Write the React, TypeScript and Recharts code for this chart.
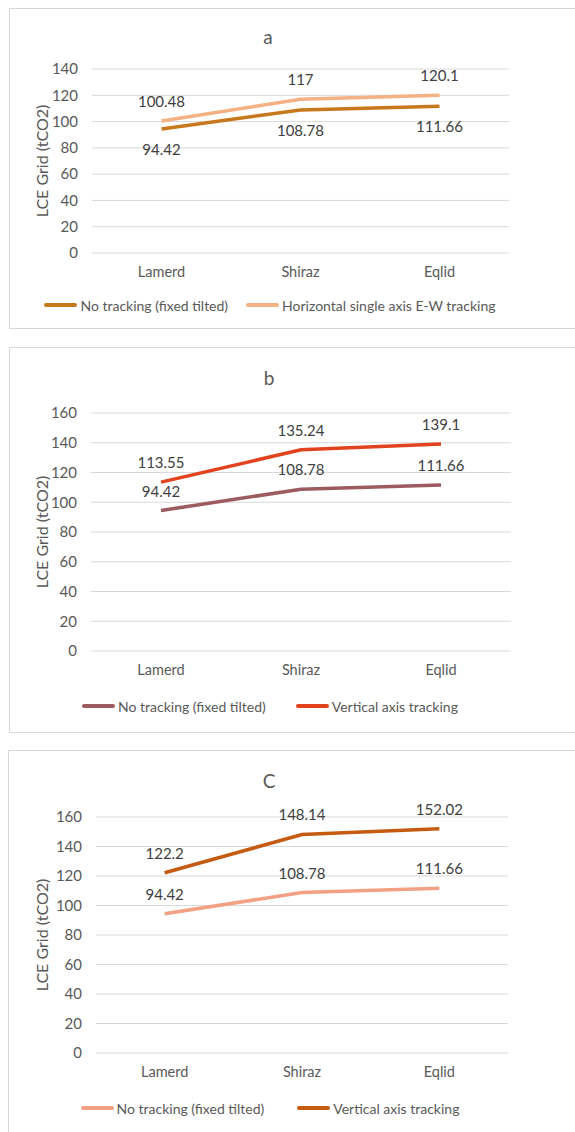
import React from 'react';
import { CartesianGrid, LabelList, Legend, Line, LineChart, XAxis, YAxis } from 'recharts';

const categories = ['Lamerd', 'Shiraz', 'Eqlid'];
const fixedTilted = [94.42, 108.78, 111.66];
const horizontalEW = [100.48, 117, 120.1];
const verticalAxisB = [113.55, 135.24, 139.1];
const verticalAxisC = [122.2, 148.14, 152.02];
const ticksA = [0, 20, 40, 60, 80, 100, 120, 140];
const ticksBC = [0, 20, 40, 60, 80, 100, 120, 140, 160];

const FONT = 'Lato, "Open Sans", sans-serif';
const TEXT = '#595959';
const LABEL = '#404040';
const GRID = '#d9d9d9';
const PAGE_W = 575;
const AXIS_H = 30;
const LEGEND_H = 40;

type SeriesDef = {
  key: string;
  name: string;
  values: number[];
  color: string;
  labelPos: 'top' | 'bottom';
};

type PanelProps = {
  title: string;
  titleX: number;
  titleY: number;
  top: number;
  height: number;
  frameLeft: number;
  plotLeft: number;
  plotRight: number;
  plotTop: number;
  plotBottom: number;
  ticks: number[];
  series: SeriesDef[];
  legendY: number;
  legendGap: number;
};

function LegendRow({ series, gap, padTop }: { series: SeriesDef[]; gap: number; padTop: number }) {
  return (
    <div style={{ position: 'relative', height: LEGEND_H, width: 540 }}>
      <div
        style={{
          position: 'absolute',
          top: padTop,
          left: 0,
          width: 540,
          height: 18,
          display: 'flex',
          justifyContent: 'center',
          alignItems: 'center',
          gap,
        }}
      >
        {series.map((s) => (
          <div key={s.key} style={{ display: 'flex', alignItems: 'center' }}>
            <div style={{ width: 33, height: 4, background: s.color, borderRadius: 2, marginRight: 3 }} />
            <span style={{ fontSize: 14, color: TEXT, fontFamily: FONT, whiteSpace: 'nowrap' }}>{s.name}</span>
          </div>
        ))}
      </div>
    </div>
  );
}

function Panel(p: PanelProps) {
  const rows = categories.map((c, i) => {
    const row: Record<string, string | number> = { name: c };
    p.series.forEach((s) => {
      row[s.key] = s.values[i];
    });
    return row;
  });

  const marginTop = p.plotTop - p.top;
  const marginRight = PAGE_W - p.plotRight;
  const marginBottom = p.height - (p.plotBottom - p.top) - AXIS_H - LEGEND_H;
  const legendTop = p.top + p.height - marginBottom - LEGEND_H;
  const pad = (p.plotRight - p.plotLeft) / 6;

  return (
    <>
      <div
        style={{
          position: 'absolute',
          left: p.frameLeft,
          top: p.top,
          width: PAGE_W,
          height: p.height,
          border: `1px solid ${GRID}`,
          boxSizing: 'border-box',
        }}
      />
      <div
        style={{
          position: 'absolute',
          left: p.titleX - 50,
          top: p.titleY - 12,
          width: 100,
          lineHeight: '24px',
          textAlign: 'center',
          fontSize: 19,
          color: TEXT,
          fontFamily: FONT,
        }}
      >
        {p.title}
      </div>
      <div style={{ position: 'absolute', left: 0, top: p.top }}>
        <LineChart
          width={PAGE_W}
          height={p.height}
          data={rows}
          margin={{ top: marginTop, right: marginRight, bottom: marginBottom, left: 0 }}
        >
          <CartesianGrid vertical={false} stroke={GRID} strokeWidth={1} />
          <XAxis
            dataKey="name"
            axisLine={false}
            tickLine={false}
            tickSize={0}
            tickMargin={14}
            height={AXIS_H}
            padding={{ left: pad, right: pad }}
            tick={{ fill: TEXT, fontSize: 14.5, fontFamily: FONT }}
          />
          <YAxis
            width={p.plotLeft}
            domain={[0, p.ticks[p.ticks.length - 1]]}
            ticks={p.ticks}
            axisLine={false}
            tickLine={false}
            tickSize={0}
            tickMargin={14}
            tick={{ fill: TEXT, fontSize: 15, fontFamily: FONT }}
            label={{
              value: 'LCE Grid (tCO2)',
              angle: -90,
              position: 'insideLeft',
              offset: 42,
              style: { textAnchor: 'middle', fill: TEXT, fontSize: 16, fontFamily: FONT },
            }}
          />
          <Legend
            verticalAlign="bottom"
            height={LEGEND_H}
            wrapperStyle={{ left: 0, width: 540 }}
            content={() => (
              <LegendRow series={p.series} gap={p.legendGap} padTop={p.legendY - legendTop - 9} />
            )}
          />
          {p.series.map((s) => (
            <Line
              key={s.key}
              type="linear"
              dataKey={s.key}
              name={s.name}
              stroke={s.color}
              strokeWidth={3.5}
              dot={false}
              isAnimationActive={false}
            >
              <LabelList
                dataKey={s.key}
                position={s.labelPos}
                offset={s.labelPos === 'top' ? 14 : 15}
                fill={LABEL}
                fontSize={15}
                fontFamily={FONT}
              />
            </Line>
          ))}
        </LineChart>
      </div>
    </>
  );
}

export default function App() {
  return (
    <div
      style={{
        position: 'absolute',
        left: 0,
        top: 0,
        width: PAGE_W,
        height: 1132,
        overflow: 'hidden',
        background: '#fff',
      }}
    >
      <Panel
        title="a"
        titleX={268}
        titleY={37}
        top={8}
        height={321}
        frameLeft={9}
        plotLeft={92}
        plotRight={509}
        plotTop={69}
        plotBottom={253}
        ticks={ticksA}
        legendY={305}
        legendGap={18}
        series={[
          { key: 'fixed', name: 'No tracking (fixed tilted)', values: fixedTilted, color: '#C8781C', labelPos: 'bottom' },
          { key: 'horiz', name: 'Horizontal single axis E-W tracking', values: horizontalEW, color: '#F4B183', labelPos: 'top' },
        ]}
      />
      <Panel
        title="b"
        titleX={269}
        titleY={378}
        top={347}
        height={386}
        frameLeft={9}
        plotLeft={91}
        plotRight={511}
        plotTop={413}
        plotBottom={651}
        ticks={ticksBC}
        legendY={706}
        legendGap={30}
        series={[
          { key: 'fixed', name: 'No tracking (fixed tilted)', values: fixedTilted, color: '#9C5B5F', labelPos: 'top' },
          { key: 'vert', name: 'Vertical axis tracking', values: verticalAxisB, color: '#E2431E', labelPos: 'top' },
        ]}
      />
      <Panel
        title="C"
        titleX={269}
        titleY={781}
        top={750}
        height={392}
        frameLeft={8}
        plotLeft={96}
        plotRight={508}
        plotTop={817}
        plotBottom={1053}
        ticks={ticksBC}
        legendY={1108}
        legendGap={33}
        series={[
          { key: 'fixed', name: 'No tracking (fixed tilted)', values: fixedTilted, color: '#F2A184', labelPos: 'top' },
          { key: 'vert', name: 'Vertical axis tracking', values: verticalAxisC, color: '#C55A11', labelPos: 'top' },
        ]}
      />
    </div>
  );
}
